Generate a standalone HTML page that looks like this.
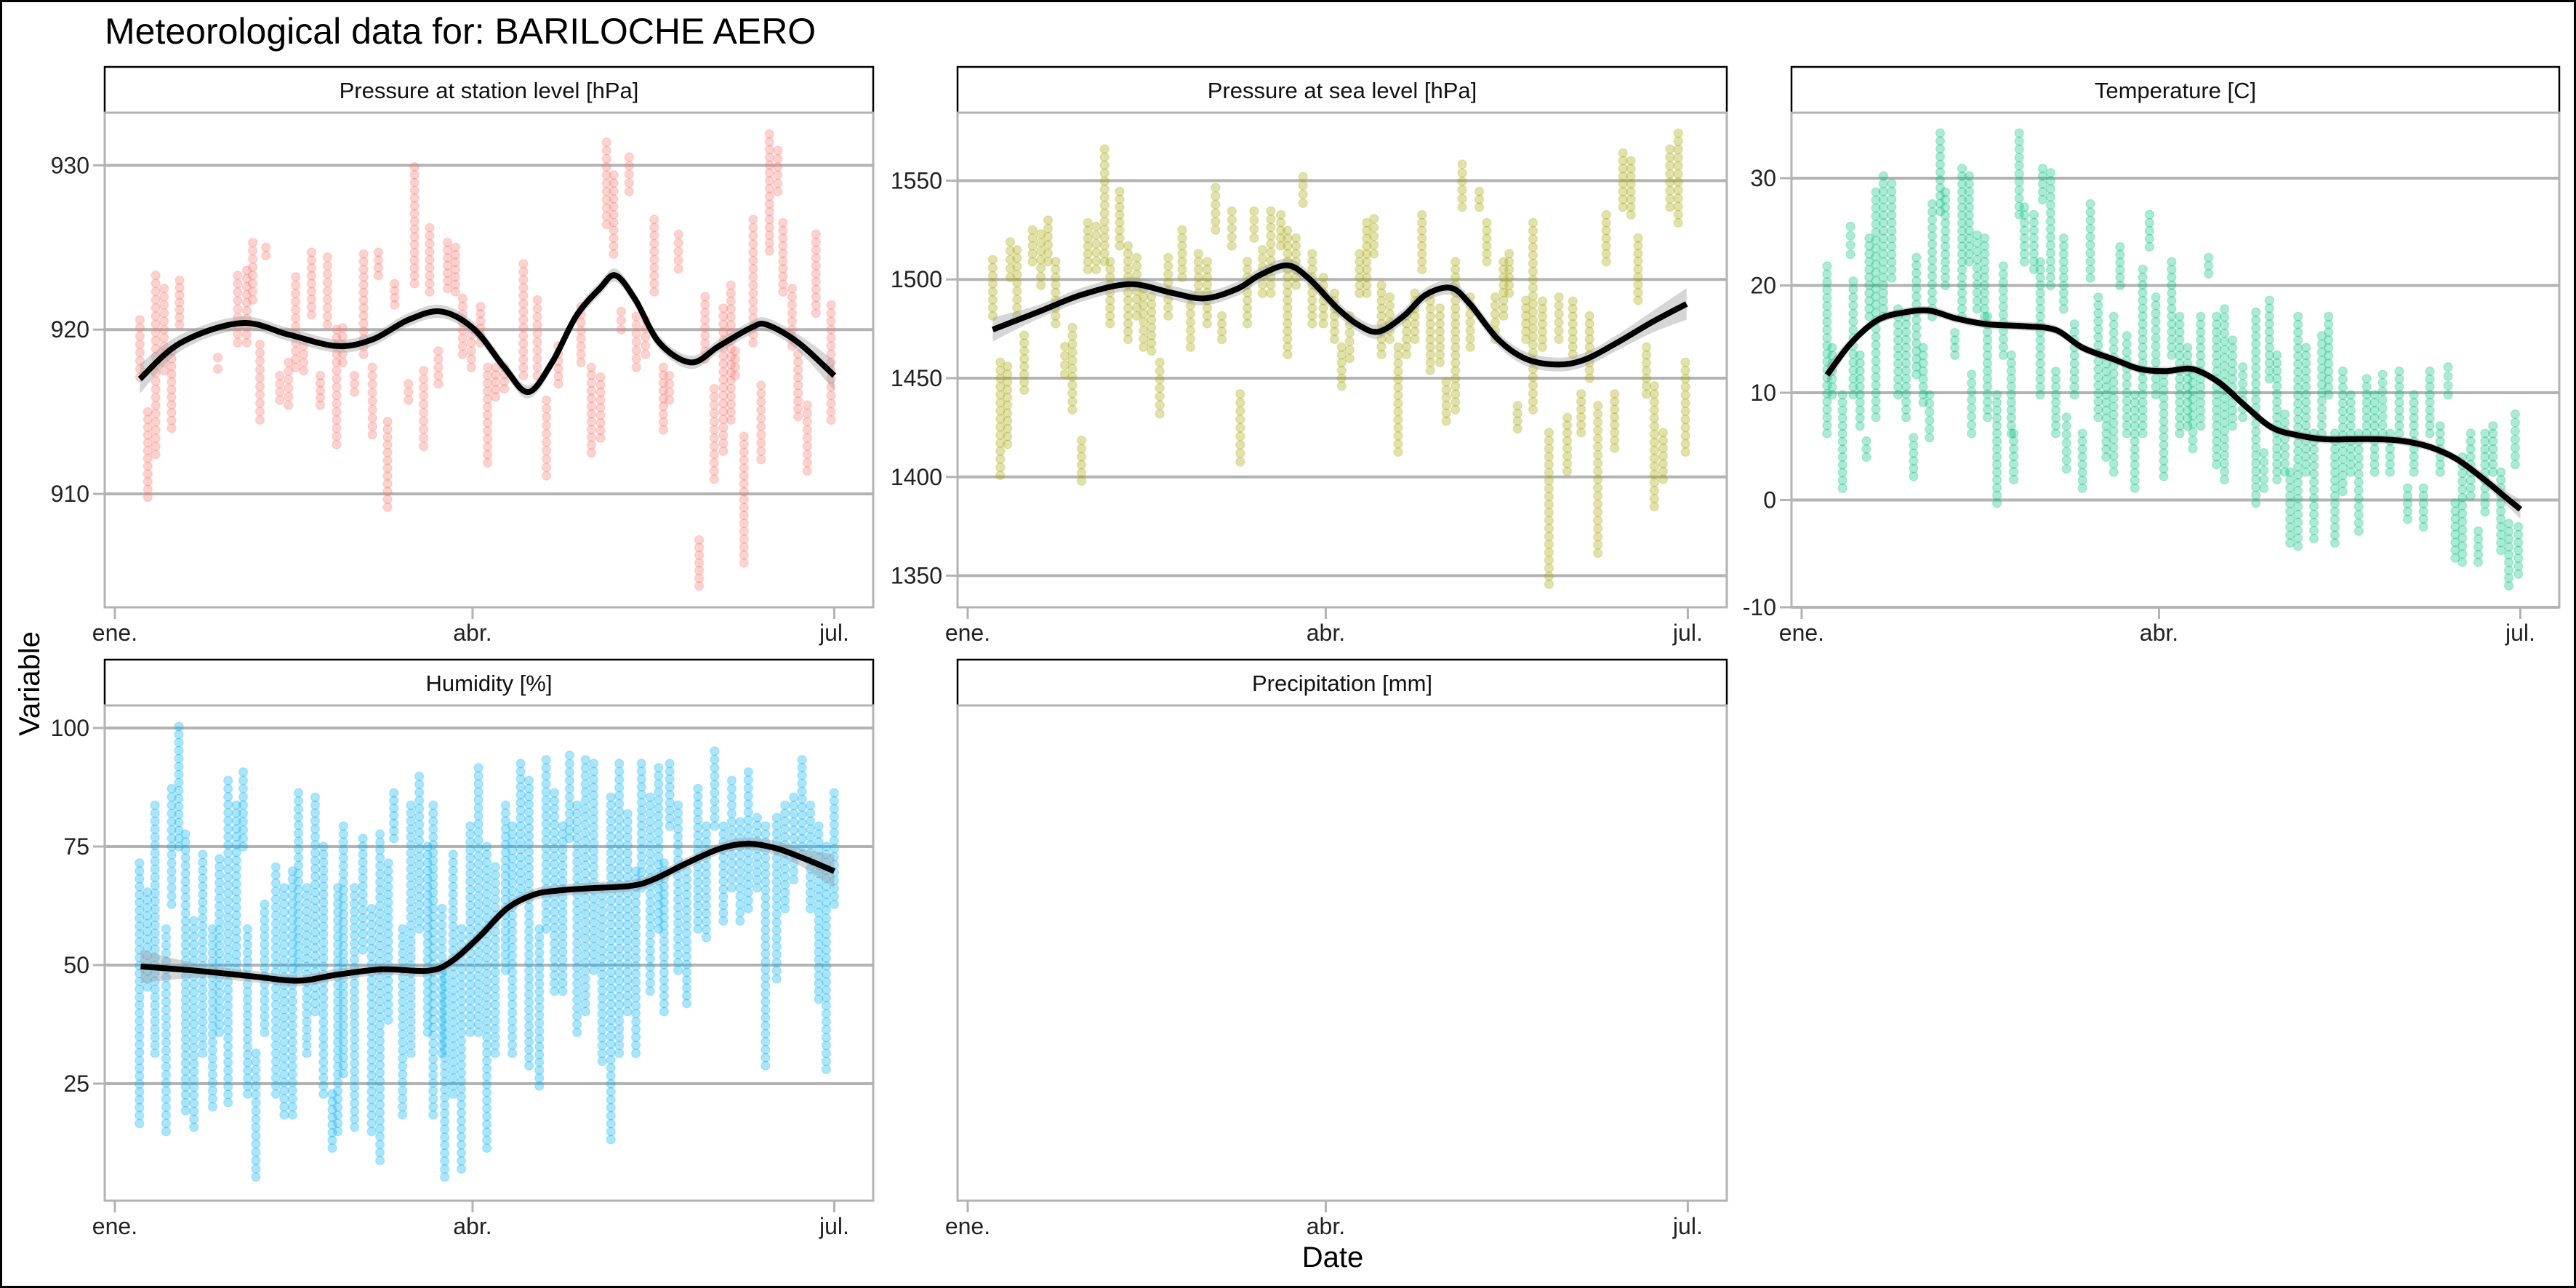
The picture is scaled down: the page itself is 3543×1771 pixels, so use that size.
<!DOCTYPE html>
<html><head><meta charset="utf-8"><style>
html,body{margin:0;padding:0;background:#fff}
svg{display:block}
text{font-family:"Liberation Sans",Arial,sans-serif}
</style></head><body>
<svg id="chart" width="3543" height="1771" viewBox="0 0 3543 1771" xmlns="http://www.w3.org/2000/svg">
<rect x="1.5" y="1.5" width="3540" height="1768" fill="#fff" stroke="#000" stroke-width="3"/>
<text x="144" y="60" font-size="50" fill="#000">Meteorological data for: BARILOCHE AERO</text>
<text x="0" y="0" font-size="40" fill="#000" text-anchor="middle" transform="translate(54,940) rotate(-90)">Variable</text>
<text x="1833" y="1742" font-size="40" fill="#000" text-anchor="middle">Date</text>
<g id="panels"></g>
</svg>
<script>
// ---- x-axis data (days since Jan 1) ----
const xTickDays = [0, 90, 181];
const xTickLabels = ["ene.", "abr.", "jul."];

// ---- Panel 1: pressure at station level ----
const p1Days = [6.3,8.3,10.3,12.4,14.3,16.3,25.9,30.9,33.2,34.7,36.5,38,41.5,43.7,45.5,47.5,49.5,51.7,53.5,55.8,57.3,60.3,62.6,64.8,66.3,68.6,70.4,73.9,75.4,77.7,79.2,81.4,83.7,85.7,87.5,89.7,92,93.8,95.8,98,102.8,106.3,108.6,111.6,117.3,119.9,122.2,123.7,125.5,127.4,129.4,131.2,133.5,135.7,138,139.5,141.8,147,148.5,150.8,153.1,155,156.1,158.3,160.6,162.6,164.7,166.8,168.1,170.4,171.9,174.2,176.4,180.2];
const p1Hi = [920.6,915,923.3,922.5,918.7,923,918.3,923.3,923.6,925.3,919.1,925,917.2,918,923.2,919,924.7,917.2,924.4,920,920.1,917.2,924.6,917.7,924.7,914.4,922.8,916.7,929.9,917.5,926.2,918.7,925.3,925,921.9,919.7,921.4,917.7,917.7,917.7,924,921.8,915.7,919,921.4,917.7,917.1,931.4,929.4,921.1,930.5,920.8,920.6,926.7,917.7,917.2,925.8,907.2,922,916.4,921.3,922.7,918.7,913.5,926.7,916.6,931.9,930.9,926.5,922.5,918.5,915.4,925.8,921.5];
const p1Lo = [917.1,909.8,912.4,917.5,914,920.3,917.6,919.2,919.2,921.8,914.5,924.5,915.7,915.4,917.7,917.5,920.9,915.4,920.3,913,918,916.2,918.5,913.6,923.3,909.2,921.5,915.7,922.8,912.9,922.3,916.7,922.5,922.3,918.5,917.7,919.2,911.9,915.9,916.4,917.2,917.2,911.1,916.7,918,912.5,913.4,926.4,924.6,920,928.4,917.7,918.5,922.3,913.9,915.7,923.7,904.4,918.2,910.9,912.6,914.5,917.2,905.8,919.2,912.1,924.8,928.4,922.3,919,914.7,911.4,921,914.5];
const p1SmDays = [6.3,16.6,31.7,43.7,55.8,64.8,73.9,82.2,90.5,98,104,110,116,122,126,131,137,145,152,160,164,172,181];
const p1SmVals = [917.0,919.2,920.4,919.7,919.0,919.4,920.6,921.1,920.0,917.7,916.2,918.0,920.8,922.5,923.3,921.8,919.2,918.0,919.0,920.1,920.3,919.2,917.2];
const p1Se = [0.9,0.5,0.4,0.4,0.4,0.4,0.4,0.4,0.4,0.4,0.4,0.4,0.4,0.4,0.4,0.4,0.4,0.4,0.4,0.4,0.4,0.5,0.9];
const p1Ticks = [910, 920, 930];

// ---- Panel 2: pressure at sea level ----
const p2Days = [6.3,8.2,10,10.7,12.4,14.2,16.3,18.4,20.2,22.1,24.4,26.3,28.6,30.2,32.3,34.4,35.8,38.2,40.3,42.5,44.2,46.2,48.3,50.4,53.9,56,58,60.2,62.3,63.9,66.4,68.5,70.3,72,74.1,76.2,78.7,80.4,82.5,84.3,86.6,89.4,92.2,94,96,98.5,100.3,102.1,104,106.1,108.2,110.3,112.4,114.2,116.3,118.7,120.3,122.6,124.3,126.3,128.6,130.5,132.6,134.7,136.1,138.2,140.3,142.1,144.5,146.1,148.6,150.7,152.1,154.2,156.3,158.4,160.5,162.6,164.7,166.7,168.5,170.6,172.6,174.8,176.5,178.6,180.4];
const p2Hi = [1510,1458,1456,1519,1515,1471.7,1525,1523,1530,1509,1466,1475.6,1418.5,1528.7,1526.8,1566,1509,1544.5,1517,1511,1495.3,1491.3,1458,1511,1525,1491,1513,1509,1546.5,1481.5,1534.6,1442,1509,1534.6,1515,1534.6,1532.7,1524.8,1521,1552,1513,1501,1493,1465.7,1481.5,1513,1528.7,1530.7,1497,1491,1465.7,1481.5,1493,1532.7,1493,1485.4,1448,1509,1558.3,1491,1544.5,1528.7,1491,1509,1513,1436,1489.4,1528.7,1489,1422.4,1491,1430,1489,1442,1481.5,1436,1532.7,1442,1564,1560,1521,1465.7,1446,1422.4,1566,1574,1458];
const p2Lo = [1481.5,1400.8,1416.5,1501,1481.5,1444,1509,1497,1509,1477.6,1452,1434,1398,1505,1505,1509,1477.6,1517,1469.7,1481.5,1465.7,1463.8,1432,1481.5,1501,1465.7,1493,1477.6,1525,1469.7,1517,1407.7,1477.6,1521,1493,1493,1517,1462,1497,1538.6,1477.6,1477.6,1469.7,1446,1460,1493,1493,1513,1462,1469.7,1412.6,1462,1469.7,1505,1454,1458,1428.3,1434,1536.6,1465.7,1536.6,1509,1469.7,1481.5,1493,1424.4,1469.7,1434,1465.7,1345.7,1469.7,1402.8,1462,1422.4,1450,1361.4,1509,1414.6,1536.6,1532.7,1489.4,1442,1385,1398.8,1536.6,1528.7,1412.6];
const p2SmDays = [6.3,17.7,28.8,40.7,51.1,59.5,67.8,73.4,80.4,85.9,92.9,98.5,103.4,109.6,115.2,121.5,126.3,133.3,140.3,148.6,155.6,164,172.3,180.7];
const p2SmVals = [1474.6,1483.5,1492.3,1497.6,1493.3,1490.4,1495.3,1502.2,1507.1,1500.2,1485.4,1476.6,1473.6,1481.5,1492.3,1495.7,1487.4,1469.7,1459.8,1456.9,1459.8,1468.9,1478.7,1487.6];
const p2Se = [6,3.5,3.5,3.5,3.5,3.5,3.5,3.5,3.5,3.5,3.5,3.5,3.5,3.5,3.5,3.5,3.5,3.5,3.5,3.5,3.5,4,5.5,8];
const p2Ticks = [1350, 1400, 1450, 1500, 1550];

// ---- Panel 3: temperature ----
const p3Days = [6.4,7.7,10.3,12.3,13,14.7,16.3,17,18.7,20.6,22.7,24.3,26.3,28.2,28.9,30.6,32.2,32.9,34.9,36.2,38.6,40.4,42.2,42.8,44.2,46.1,46.8,49.2,50.8,52.8,53.4,54.8,56.1,58.5,60.1,60.7,62.7,64,66,66.7,68.7,70.7,72.7,74.7,76.7,78.6,80.2,81.9,83.9,85.9,87.6,89.2,91.2,93.2,95.2,97.2,98.5,100.5,102.5,104.5,106.5,108.5,111.1,114.4,116.4,117.8,119.7,121.7,123,125,127,129,131,132.7,134.3,136.3,138.3,140.3,142.3,144.3,146.3,148.2,150.5,152.6,154.2,156.6,158.2,160.8,162.8,164.6,166.4,168.5,170.4,172.1,174.1,176.1,178.1,179.7,180.5];
const p3Hi = [21.8,14.2,9.8,25.5,20.4,13.5,5.5,24.4,28.7,30.2,29.5,17.8,17.1,5.8,22.6,14.2,9.8,27.6,34.2,28.7,15.6,30.9,30.2,11.7,24.7,24.4,17.1,9.8,21.8,13.5,6.2,34.2,27.3,26.6,22.2,30.9,30.5,12,24.4,7.7,16.4,6.2,27.6,18.9,12.7,17.1,23.6,15.3,9.8,21.5,26.6,18.9,11.7,22.2,17.1,14.2,11.7,17.1,22.6,17.1,17.8,14.9,12.4,17.5,4.4,18.6,13.5,8,2.6,17.1,14.2,6.2,15.3,17.1,6.2,12,9.8,6.2,11.3,9.8,11.7,6.2,12,1.1,9.8,1.1,12,6.9,12.4,-0.3,4,6.2,-2.9,6.2,6.9,2.6,-2.2,8,-2.5];
const p3Lo = [6.2,9.8,1.1,22.9,9.8,6.9,4,17.1,7.7,17.1,20.7,9.8,7.7,2.2,11.7,9.1,5.8,17.1,26.9,20,13.5,17.1,22.2,6.2,17.8,17.1,7.7,-0.3,13.5,6.2,1.9,26.6,22.2,21.5,9.8,28,20,6.2,17.8,2.9,9.8,1.1,20.7,7.7,4,2.6,20,6.2,1.1,6.2,23.6,9.8,2.2,13.5,6.2,6.9,4.8,6.9,21.1,3.3,1.9,6.9,7.7,-0.3,1.1,11.3,1.9,2.6,-4,-4.3,2.6,-3.6,6.2,9.8,-4,0.8,2.6,-2.9,6.2,2.6,6.2,2.6,6.2,-1.8,2.6,-2.5,6.2,2.6,9.8,-5.4,-5.8,0.4,-5.8,-1.1,2.6,-4.7,-8,3.3,-6.9];
const p3SmDays = [6.4,12.3,19,25.6,32.2,38.9,46.8,56.1,64,70.7,78.6,85.3,91.9,98.5,105.2,111.8,118.4,125,131.7,138.3,144.9,151.6,158.2,164.8,171.5,176.8,181];
const p3SmVals = [11.66,14.56,16.74,17.47,17.65,16.92,16.38,16.2,15.84,14.2,13.11,12.2,12.02,12.2,10.93,8.75,6.76,6.03,5.67,5.67,5.67,5.49,4.94,3.85,2.03,0.4,-0.87];
const p3Se = [0.9,0.5,0.4,0.4,0.4,0.4,0.4,0.4,0.4,0.4,0.4,0.4,0.4,0.4,0.4,0.4,0.4,0.4,0.4,0.4,0.4,0.4,0.4,0.4,0.5,0.6,0.9];
const p3Ticks = [-10, 0, 10, 20, 30];

// ---- Panel 4: humidity ----
const p4Days = [6.2,8.2,10.1,12.9,14.3,16.1,17.8,19.9,22.1,24.6,26.3,28.5,30.6,32.3,33.4,35.5,37.7,40.5,42.6,44.7,46.2,48.3,50.4,52.5,54.7,56.1,57.5,60.3,62.4,64.6,66.7,68.8,70.2,72.4,74.5,76.6,78.7,80.1,82.3,83,85.1,87.2,89.4,91.5,93.6,95.7,98.3,100,102.1,104.2,106.8,108.5,110.6,112.7,114.4,116.3,118.4,120.5,122.6,124.8,126.9,129,131.1,132.5,134.7,136.8,138.2,139.6,141.7,143.9,146.7,148.8,150.9,153.1,155.2,157.3,159.4,161.6,163.7,166.5,168.6,170.8,172.9,175,177.1,179,181];
const p4Hi = [71.5,65.4,83.7,57.6,87.2,100.3,77.6,59.3,73.3,57.6,72.4,88.9,83.7,90.7,57.6,31.4,62.8,70.7,66.3,69.8,86.3,66.3,85.4,75,22.8,66.3,79.3,66.3,76.7,61.9,77.6,71.5,86.3,57.6,83.7,89.8,75,83.7,61.9,48.9,73.3,57.6,79.3,91.6,75,70.7,83.7,79.3,92.5,88.9,57.6,93.3,86.3,79.3,94.2,83.7,93.3,92.5,66.3,85.4,92.5,81.9,69.8,92.5,85.4,91.6,71.5,92.5,83.7,69.8,87.2,79.3,95.1,79.3,88.9,80.2,90.7,81.1,79.3,81.1,83.7,85.4,93.3,83.7,79.3,75,86.3];
const p4Lo = [16.6,45.4,31.4,14.9,62.8,75,19.3,15.8,31.4,20.1,35.8,21,48.9,75,22.8,5.3,35.8,22.8,18.4,18.4,48.9,31.4,40.2,22.8,11.4,14.9,27.1,15.8,53.2,14.9,8.8,38.4,76.7,18.4,31.4,57.6,35.8,18.4,31.4,5.3,22.8,7,35.8,35.8,11.4,31.4,48.9,31.4,64.5,28.8,24.5,57.6,44.5,44.5,76.7,35.8,40.2,48.9,29.7,13.2,31.4,40.2,31.4,66.3,44.5,57.6,40.2,79.3,48.9,41.9,57.6,55.8,79.3,59.3,66.3,59.3,61.9,66.3,28.8,47.1,61.9,68,73.3,61.9,42.8,28,62.8];
const p4SmDays = [6.5,20.7,34.8,46.2,56.1,67.4,78.7,84.4,91.5,98.6,105.6,112.7,119.8,129.7,135.4,143.9,152.4,159.4,166.5,173.6,181];
const p4SmVals = [49.7,48.8,47.6,46.7,48.0,49.1,48.8,50.6,55.8,61.9,64.9,65.8,66.2,66.7,68.0,71.5,74.6,75.6,74.6,72.4,69.8];
const p4Se = [3.5,1.5,1.2,1.2,1.2,1.2,1.2,1.2,1.2,1.2,1.2,1.2,1.2,1.2,1.2,1.2,1.2,1.3,1.5,2,3.5];
const p4Ticks = [25, 50, 75, 100];

// ---- layout ----
const NS = "http://www.w3.org/2000/svg";
const root = document.getElementById("panels");
const X_DOMAIN = [-2.55, 190.8];
function mk(tag, attrs, parent) {
  const el = document.createElementNS(NS, tag);
  for (const k in attrs) el.setAttribute(k, attrs[k]);
  parent.appendChild(el);
  return el;
}
function smoothPath(pts) {
  let d = "M" + pts[0][0].toFixed(1) + "," + pts[0][1].toFixed(1);
  for (let i = 0; i < pts.length - 1; i++) {
    const p0 = pts[i - 1] || pts[i], p1 = pts[i], p2 = pts[i + 1], p3 = pts[i + 2] || p2;
    const c1x = p1[0] + (p2[0] - p0[0]) / 6, c1y = p1[1] + (p2[1] - p0[1]) / 6;
    const c2x = p2[0] - (p3[0] - p1[0]) / 6, c2y = p2[1] - (p3[1] - p1[1]) / 6;
    d += "C" + c1x.toFixed(1) + "," + c1y.toFixed(1) + " " + c2x.toFixed(1) + "," + c2y.toFixed(1) + " " + p2[0].toFixed(1) + "," + p2[1].toFixed(1);
  }
  return d;
}
function smoothSeg(pts) { return smoothPath(pts).replace(/^M/, "L"); }

function panel(cfg) {
  const g = mk("g", {}, root);
  
  
  const { x0, x1, y0, y1 } = cfg;
  const sx = d => x0 + (d - X_DOMAIN[0]) / (X_DOMAIN[1] - X_DOMAIN[0]) * (x1 - x0);
  const sy = cfg.domain ? (v => y1 - (v - cfg.domain[0]) / (cfg.domain[1] - cfg.domain[0]) * (y1 - y0)) : null;
  const strip = mk("rect", { x: x0, y: y0 - 63, width: x1 - x0, height: 63, fill: "#fff", stroke: "#000", "stroke-width": 2.5 }, g);
  
  
  const st = mk("text", { x: (x0 + x1) / 2, y: y0 - 20, "font-size": 31, "text-anchor": "middle", fill: "#111" }, g);
  st.textContent = cfg.title;
  
  
  if (sy) {
    cfg.ticks.forEach(t => {
      const y = sy(t);
      const gl = mk("line", { x1: x0, x2: x1, y1: y, y2: y, stroke: "#b3b3b3", "stroke-width": 4 }, g);
      
      
      const tk = mk("line", { x1: x0 - 16, x2: x0, y1: y, y2: y, stroke: "#b3b3b3", "stroke-width": 3 }, g);
      
      
      const tl = mk("text", { x: x0 - 21, y: y + 11, "font-size": 32, "text-anchor": "end", fill: "#222" }, g);
      tl.textContent = String(t);
      
      
    });
  }
  if (cfg.days) {
    const pg = mk("g", { fill: cfg.color, "fill-opacity": 0.33, stroke: cfg.color, "stroke-opacity": 0.2, "stroke-width": 1.5 }, g);
    
    
    cfg.days.forEach((d, i) => {
      const cx = sx(d);
      const ya = sy(cfg.hi[i]), yb = sy(cfg.lo[i]);
      const n = Math.max(2, Math.round((yb - ya) / 11) + 1);
      for (let k = 0; k < n; k++) {
        const cy = ya + (yb - ya) * k / (n - 1);
        const c = mk("circle", { cx: cx.toFixed(1), cy: cy.toFixed(1), r: 6 }, pg);
        
        
      }
    });
    const up = cfg.smDays.map((d, i) => [sx(d), sy(cfg.smVals[i] + cfg.se[i])]);
    const dn = cfg.smDays.map((d, i) => [sx(d), sy(cfg.smVals[i] - cfg.se[i])]).reverse();
    const rib = mk("path", { d: smoothPath(up) + smoothSeg(dn) + "Z", fill: "#999", "fill-opacity": 0.4, stroke: "none" }, g);
    
    
    const line = mk("path", { d: smoothPath(cfg.smDays.map((d, i) => [sx(d), sy(cfg.smVals[i])])), fill: "none", stroke: "#000", "stroke-width": 8, "stroke-linecap": "butt" }, g);
    
    
  }
  const b = mk("rect", { x: x0, y: y0, width: x1 - x0, height: y1 - y0, fill: "none", stroke: "#b3b3b3", "stroke-width": 3 }, g);
  
  
  xTickDays.forEach((d, i) => {
    const x = sx(d);
    const tk = mk("line", { x1: x, x2: x, y1: y1, y2: y1 + 16, stroke: "#b3b3b3", "stroke-width": 3 }, g);
    
    
    const tl = mk("text", { x: x, y: y1 + 46, "font-size": 32, "text-anchor": "middle", fill: "#222" }, g);
    tl.textContent = xTickLabels[i];
    
    
  });
}

panel({ name: "station-pressure", title: "Pressure at station level [hPa]", x0: 144, x1: 1201, y0: 155, y1: 835,
  domain: [903.1, 933.2], ticks: p1Ticks, color: "#F8766D",
  days: p1Days, hi: p1Hi, lo: p1Lo, smDays: p1SmDays, smVals: p1SmVals, se: p1Se });
panel({ name: "sea-pressure", title: "Pressure at sea level [hPa]", x0: 1317, x1: 2375, y0: 155, y1: 835,
  domain: [1334, 1584.4], ticks: p2Ticks, color: "#A3A500",
  days: p2Days, hi: p2Hi, lo: p2Lo, smDays: p2SmDays, smVals: p2SmVals, se: p2Se });
panel({ name: "temperature", title: "Temperature [C]", x0: 2464, x1: 3520, y0: 155, y1: 835,
  domain: [-10, 36.1], ticks: p3Ticks, color: "#00BF7D",
  days: p3Days, hi: p3Hi, lo: p3Lo, smDays: p3SmDays, smVals: p3SmVals, se: p3Se });
panel({ name: "humidity", title: "Humidity [%]", x0: 144, x1: 1201, y0: 970, y1: 1651,
  domain: [0.3, 104.75], ticks: p4Ticks, color: "#00B0F6",
  days: p4Days, hi: p4Hi, lo: p4Lo, smDays: p4SmDays, smVals: p4SmVals, se: p4Se });
panel({ name: "precipitation", title: "Precipitation [mm]", x0: 1317, x1: 2375, y0: 970, y1: 1651 });
</script>
</body></html>
